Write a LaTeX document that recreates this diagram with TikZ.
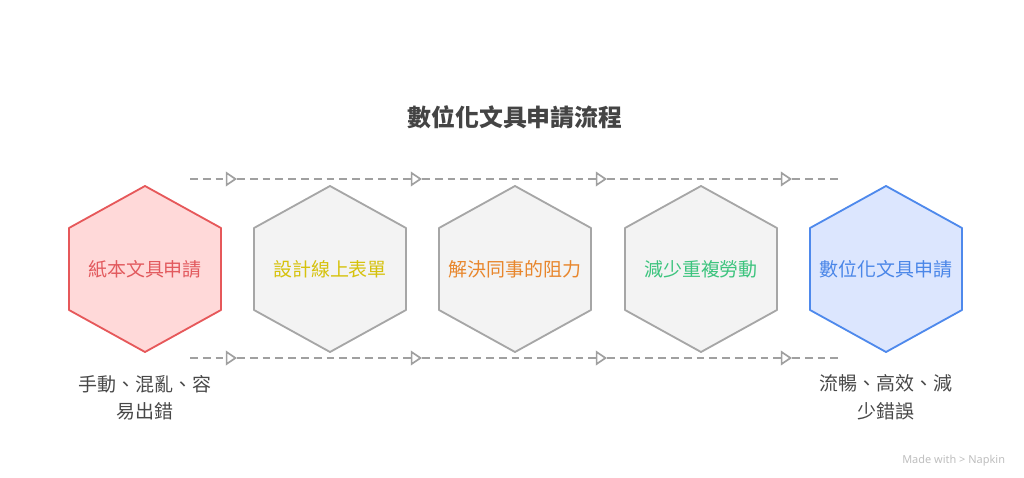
\documentclass[tikz,border=0pt]{standalone}
\usepackage{fontspec}
\setmainfont{Noto Sans CJK TC}
\newfontfamily\latinfont{Noto Sans}
\usetikzlibrary{arrows.meta, calc}
\definecolor{redFill}{RGB}{255,217,217}
\definecolor{redLine}{RGB}{230,88,90}
\definecolor{redText}{RGB}{226,90,94}
\definecolor{grayFill}{RGB}{243,243,243}
\definecolor{grayLine}{RGB}{166,166,166}
\definecolor{blueFill}{RGB}{220,230,254}
\definecolor{blueLine}{RGB}{78,137,236}
\definecolor{blueText}{RGB}{74,134,232}
\definecolor{yellowText}{RGB}{214,194,12}
\definecolor{orangeText}{RGB}{232,134,44}
\definecolor{greenText}{RGB}{61,196,126}
\definecolor{titleGray}{RGB}{68,68,68}
\definecolor{noteGray}{RGB}{72,72,72}
\definecolor{flowGray}{RGB}{160,160,160}
\definecolor{markGray}{RGB}{190,190,190}
% hexagon round a centre, pointy top (units are pixels, y down)
\newcommand{\hexpath}[1]{(#1) ++(0,-83) -- ++(76,42) -- ++(0,82) -- ++(-76,42) -- ++(-76,-42) -- ++(0,-82) -- cycle}
\def\rowTop{179}
\def\rowBot{358}
\def\rowHex{269}

\begin{document}
\begin{tikzpicture}[
    x=0.025cm, y=-0.025cm,
    flow/.style    ={line width=1.4pt, flowGray, dash pattern=on 5.5pt off 3.6pt,
                     -{Triangle[open, length=8pt, width=10.5pt, fill=white, line width=1.2pt]}},
    flowEnd/.style ={line width=1.4pt, flowGray, dash pattern=on 5.5pt off 3.6pt},
    hexRed/.style  ={draw=redLine, fill=redFill, line width=1.3pt, line join=round},
    hexGray/.style ={draw=grayLine, fill=grayFill, line width=1.3pt, line join=round},
    hexBlue/.style ={draw=blueLine, fill=blueFill, line width=1.3pt, line join=round},
    stepLabel/.style={font=\fontsize{13.5}{16}\selectfont, align=center},
    noteLabel/.style={font=\fontsize{13.5}{19.5}\selectfont, align=center, text=noteGray, anchor=north},
]
\useasboundingbox (0,0) rectangle (1024,478);

% title
\node[font=\fontsize{17}{20}\selectfont\bfseries, text=titleGray] (title) at (515,117) {數位化文具申請流程};

% =====================================================
% hexagons
% =====================================================
\draw[hexRed]  \hexpath{145,\rowHex};
\draw[hexGray] \hexpath{330,\rowHex};
\draw[hexGray] \hexpath{515,\rowHex};
\draw[hexGray] \hexpath{701,\rowHex};
\draw[hexBlue] \hexpath{886,\rowHex};

\node[stepLabel, text=redText]    (paper)   at (145,\rowHex) {紙本文具申請};
\node[stepLabel, text=yellowText] (form)    at (330,\rowHex) {設計線上表單};
\node[stepLabel, text=orangeText] (resist)  at (515,\rowHex) {解決同事的阻力};
\node[stepLabel, text=greenText]  (labour)  at (701,\rowHex) {減少重複勞動};
\node[stepLabel, text=blueText]   (digital) at (886,\rowHex) {數位化文具申請};

% notes under the ends
\node[noteLabel] (paperNote)   at (145,370) {手動、混亂、容\\易出錯};
\node[noteLabel] (digitalNote) at (886,370) {流暢、高效、減\\少錯誤};

% =====================================================
% dashed flow lines above and below
% =====================================================
\foreach \r/\y in {top/\rowTop, bot/\rowBot}{
    \coordinate (\r0) at (190,\y);
    \coordinate (\r1) at (237,\y);
    \coordinate (\r2) at (422,\y);
    \coordinate (\r3) at (607,\y);
    \coordinate (\r4) at (792,\y);
    \coordinate (\r5) at (840,\y);
    \draw[flow]    (\r0) -- (\r1);
    \draw[flow]    (\r1) -- (\r2);
    \draw[flow]    (\r2) -- (\r3);
    \draw[flow]    (\r3) -- (\r4);
    \draw[flowEnd] (\r4) -- (\r5);
}

% watermark
\node[font=\latinfont\fontsize{7.8}{9}\selectfont, text=markGray, anchor=east] (mark) at (1010,461) {Made with \textgreater\ Napkin};

\end{tikzpicture}
\end{document}
